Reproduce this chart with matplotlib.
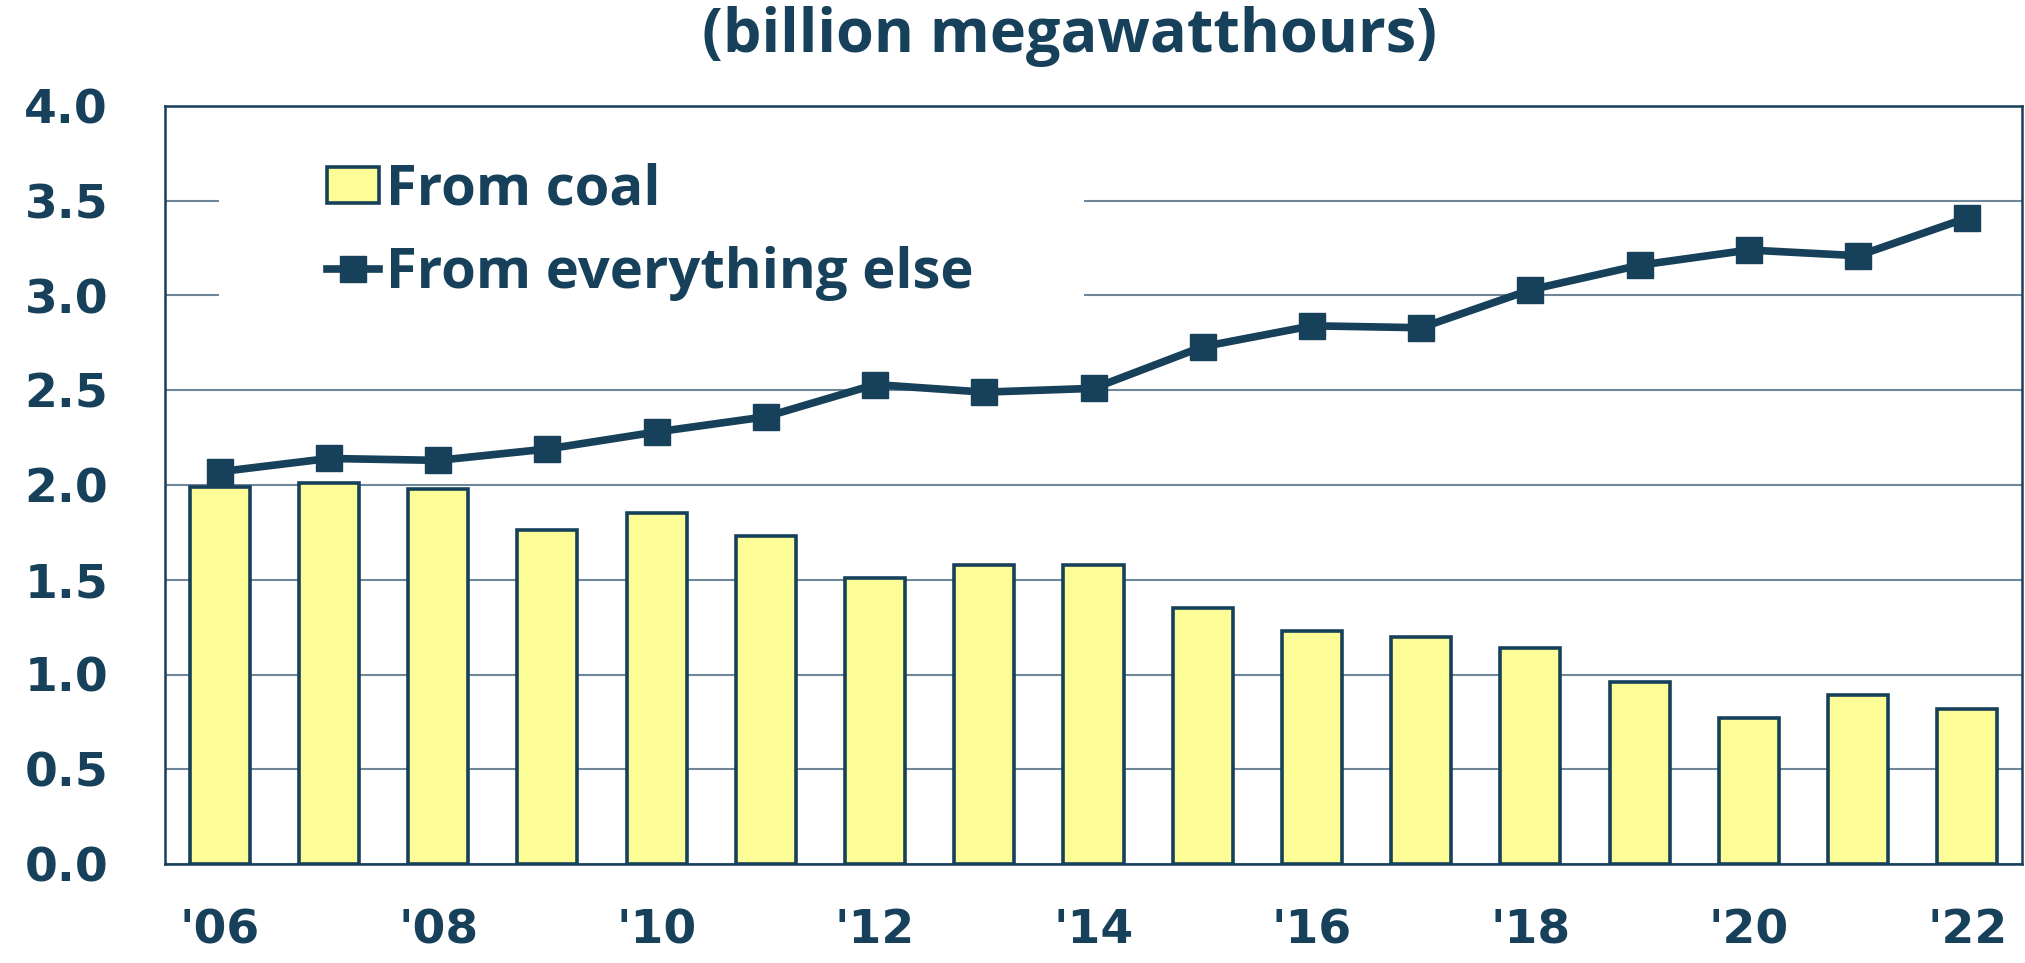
import matplotlib
matplotlib.use("Agg")
import matplotlib.pyplot as plt
from matplotlib.patches import Rectangle
import numpy as np

years = ["'06", "'07", "'08", "'09", "'10", "'11", "'12", "'13", "'14",
         "'15", "'16", "'17", "'18", "'19", "'20", "'21", "'22"]
coal = [1.99, 2.01, 1.98, 1.76, 1.85, 1.73, 1.51, 1.58, 1.58,
        1.35, 1.23, 1.20, 1.14, 0.96, 0.77, 0.89, 0.82]
everything_else = [2.07, 2.14, 2.13, 2.19, 2.28, 2.36, 2.53, 2.49, 2.51,
                   2.73, 2.84, 2.83, 3.03, 3.16, 3.24, 3.21, 3.41]
yticks = [0.0, 0.5, 1.0, 1.5, 2.0, 2.5, 3.0, 3.5, 4.0]
title = "(billion megawatthours)"
labels = ["From coal", "From everything else"]

NAVY = "#17405a"
YELLOW = "#fdfd98"
GRID = "#6f8799"

fig = plt.figure(figsize=(20.25, 9.63), dpi=100)
ax = fig.add_axes([165 / 2025, 99 / 963, (2022 - 165) / 2025, (864 - 106) / 963])

x = np.arange(len(years))
bars = ax.bar(x, coal, width=0.55, color=YELLOW, edgecolor=NAVY, linewidth=2.6,
              zorder=2, label=labels[0])
line, = ax.plot(x, everything_else, color=NAVY, linewidth=5.5, marker="s",
                markersize=19, markerfacecolor=NAVY, markeredgecolor=NAVY,
                zorder=3, label=labels[1])

ax.set_xlim(-0.5, len(years) - 0.5)
ax.set_ylim(0, 4.0)
ax.set_yticks(yticks)
ax.set_yticklabels([f"{v:.1f}" for v in yticks])
ax.set_xticks(x[::2])
ax.set_xticklabels(years[::2])

ax.set_axisbelow(True)
ax.yaxis.grid(True, color=GRID, linewidth=1.5)
ax.xaxis.grid(False)

# white area behind legend (interrupts gridlines)
ax.add_patch(Rectangle((0.029, 0.70), 0.466, 0.25, transform=ax.transAxes,
                       facecolor="white", edgecolor="none", zorder=1))

for s in ax.spines.values():
    s.set_color(NAVY)
    s.set_linewidth(1.8)

ax.tick_params(axis="both", length=0, colors=NAVY)
ax.tick_params(axis="y", pad=41)
ax.tick_params(axis="x", pad=32)
for lab in ax.get_yticklabels() + ax.get_xticklabels():
    lab.set_fontfamily("DejaVu Sans")
    lab.set_fontweight("bold")
    lab.set_fontsize(34)
    lab.set_color(NAVY)

leg = ax.legend(handles=[bars, line], labels=labels, loc="upper left",
                bbox_to_anchor=(0.072, 0.962), frameon=False, borderpad=0,
                handlelength=0.93, handleheight=0.6, handletextpad=0.12,
                labelspacing=0.5,
                prop={"family": "Open Sans", "weight": "bold", "size": 40.5})
for t in leg.get_texts():
    t.set_color(NAVY)

fig.text(0.528, 0.962, title, ha="center", va="center", color=NAVY,
         fontsize=44, fontfamily="Open Sans", fontweight="bold")

fig.savefig("out.png", dpi=100, facecolor="white")
